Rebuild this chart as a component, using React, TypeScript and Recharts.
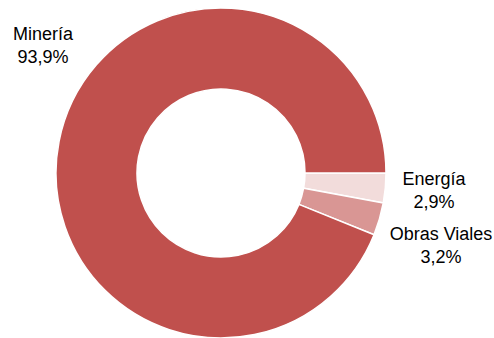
import { Cell, Pie, PieChart } from "recharts";

const sectors = ["Energía", "Obras Viales", "Minería"];
const shares = [2.9, 3.2, 93.9];
const colors = ["#F2DCDB", "#D99694", "#C0504D"];

const data = sectors.map((name, i) => ({ name, value: shares[i] }));

// label anchors, relative to the pie centre (Excel "best fit" placement)
const labelOffsets: Record<string, [number, number]> = {
  "Energía": [213, 12],
  "Obras Viales": [220, 67],
  "Minería": [-178, -133],
};

const fmt = (v: number) => `${v.toFixed(1).replace(".", ",")}%`;

function renderLabel(props: any) {
  const { cx, cy, name, value } = props;
  const [dx, dy] = labelOffsets[name] ?? [0, 0];
  const x = cx + dx;
  const y = cy + dy;
  return (
    <text
      x={x}
      y={y}
      textAnchor="middle"
      fill="#000"
      fontSize={18}
      fontFamily="Liberation Sans, Arial, sans-serif"
    >
      <tspan x={x} dy={0}>
        {name}
      </tspan>
      <tspan x={x} dy={23}>
        {fmt(value)}
      </tspan>
    </text>
  );
}

export default function App() {
  return (
    <div style={{ position: "absolute", left: 0, top: 0, background: "#fff" }}>
      <style>{`body{margin:0}`}</style>
      <PieChart
        width={494}
        height={338}
        margin={{ top: 0, right: 0, bottom: 0, left: 0 }}
      >
        <Pie
          data={data}
          dataKey="value"
          nameKey="name"
          cx={221}
          cy={173}
          innerRadius={84}
          outerRadius={165}
          startAngle={0}
          endAngle={-360}
          stroke="#fff"
          strokeWidth={1.5}
          label={renderLabel}
          labelLine={false}
          isAnimationActive={false}
        >
          {data.map((d, i) => (
            <Cell key={d.name} fill={colors[i]} />
          ))}
        </Pie>
      </PieChart>
    </div>
  );
}
